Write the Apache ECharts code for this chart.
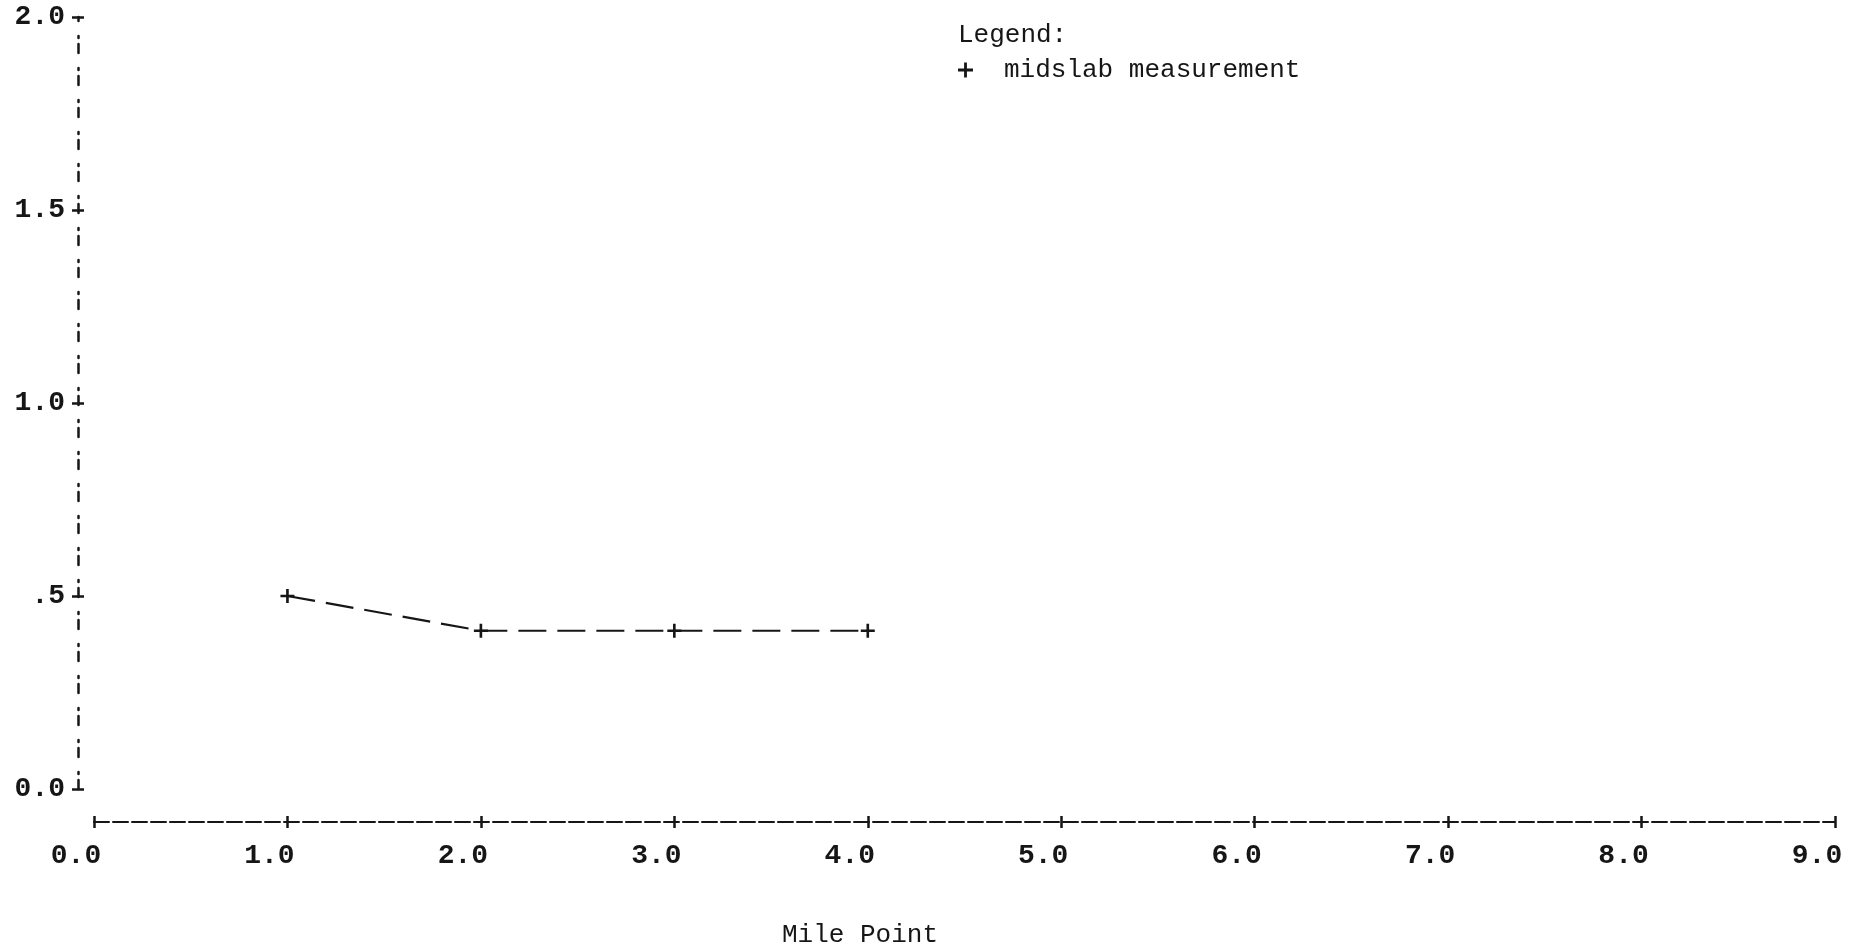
<!DOCTYPE html>
<html>
<head>
<meta charset="utf-8">
<script src="https://cdn.jsdelivr.net/npm/echarts@6/dist/echarts.min.js"></script>
<style>
html,body{margin:0;padding:0;background:#ffffff;}
#chart{width:1865px;height:951px;}
</style>
</head>
<body>
<div id="chart"></div>
<script>
// ---- data ----
const xTickLabels = ['0.0','1.0','2.0','3.0','4.0','5.0','6.0','7.0','8.0','9.0'];
const yTickLabels = ['0.0','.5','1.0','1.5','2.0'];
const mileX = [1, 2, 3, 4];
const midslab = [0.5, 0.41, 0.41, 0.41];
const seriesName = 'midslab measurement';
const xTitle = 'Mile Point';
const legendTitle = 'Legend:';

const ink = '#161616';
const plusPath = 'path://M6.5,0h3v6.5h6.5v3h-6.5v6.5h-3v-6.5h-6.5v-3h6.5z';
const tickFont = {fontFamily: '"Liberation Mono", monospace', fontWeight: 'bold', fontSize: 28, color: ink};
const typeFont = {fontFamily: '"Liberation Mono", monospace', fontSize: 26, color: ink};

const chart = echarts.init(document.getElementById('chart'), null, {renderer: 'canvas'});

const xBase = {
  type: 'value', min: 0, max: 9, interval: 1,
  position: 'bottom', offset: 33,
  splitLine: {show: false}
};
const yBase = {
  type: 'value', min: 0, max: 2, interval: 0.5,
  position: 'left', offset: 16,
  splitLine: {show: false}
};

chart.setOption({
  backgroundColor: '#ffffff',
  animation: false,
  grid: {left: 94, right: 30, top: 17, bottom: 162, containLabel: false},
  xAxis: [
    Object.assign({}, xBase, {
      axisLine: {show: true, onZero: false, lineStyle: {color: ink, width: 2, type: [15, 4]}},
      axisTick: {show: true, inside: false, length: 6, lineStyle: {color: ink, width: 2.5}},
      axisLabel: {
        show: true, margin: 20, padding: [0, 36, 0, 0],
        formatter: v => xTickLabels[Math.round(v)],
        ...tickFont
      }
    }),
    Object.assign({}, xBase, {
      axisLine: {show: false, onZero: false},
      axisTick: {show: true, inside: true, length: 6, lineStyle: {color: ink, width: 2.5}},
      axisLabel: {show: false}
    })
  ],
  yAxis: [
    Object.assign({}, yBase, {
      axisLine: {show: true, onZero: false, lineStyle: {color: ink, width: 2.5, type: [9, 6, 2, 15]}},
      axisTick: {show: true, inside: false, length: 6, lineStyle: {color: ink, width: 2.5}},
      axisLabel: {
        show: true, margin: 13,
        formatter: v => yTickLabels[Math.round(v / 0.5)],
        ...tickFont
      }
    }),
    Object.assign({}, yBase, {
      axisLine: {show: false, onZero: false},
      axisTick: {show: true, inside: true, length: 6, lineStyle: {color: ink, width: 2.5}},
      axisLabel: {show: false}
    })
  ],
  legend: {
    show: true,
    left: 953, top: 52,
    orient: 'vertical',
    icon: plusPath,
    itemWidth: 15, itemHeight: 15,
    textStyle: Object.assign({}, typeFont, {padding: [0, 0, 0, 26]}),
    data: [seriesName]
  },
  graphic: [
    {type: 'text', left: 958, top: 22, style: {text: legendTitle, font: '26px "Liberation Mono", monospace', fill: ink}},
    {type: 'text', left: 782, top: 922, style: {text: xTitle, font: '26px "Liberation Mono", monospace', fill: ink}}
  ],
  series: [{
    name: seriesName,
    type: 'line',
    xAxisIndex: 0, yAxisIndex: 0,
    data: mileX.map((x, i) => [x, midslab[i]]),
    symbol: plusPath,
    symbolSize: 14,
    showSymbol: true,
    itemStyle: {color: ink},
    lineStyle: {color: ink, width: 2.2, type: [28, 11]}
  }]
});
</script>
</body>
</html>
